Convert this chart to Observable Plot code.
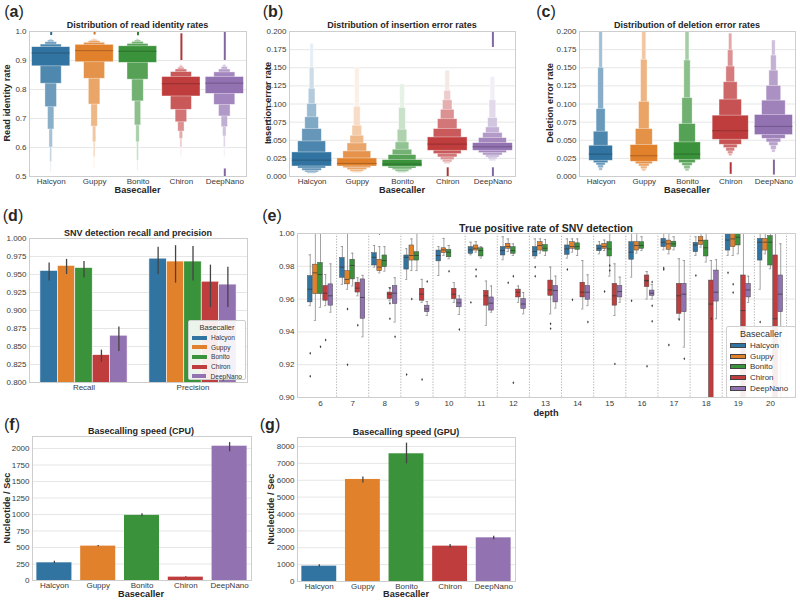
<!DOCTYPE html>
<html><head><meta charset="utf-8">
<script src="https://cdn.jsdelivr.net/npm/d3@7"></script>
<script src="https://cdn.jsdelivr.net/npm/@observablehq/plot@0.6"></script>
<style>
body{margin:0;background:#fff;}
#fig{position:relative;width:800px;height:600px;overflow:hidden;font-family:"Liberation Sans",Arial,sans-serif;color:#262626;background:#fff;}
#fig svg{position:absolute;left:0;top:0;}
.t{position:absolute;white-space:nowrap;transform:translate(-50%,-50%);line-height:1;}
.letter{font-size:16px;}
.title{font-size:9px;font-weight:bold;}
.title-e{font-size:10.5px;font-weight:bold;}
.axl{font-size:9.2px;font-weight:bold;}
.lg{position:absolute;background:rgba(255,255,255,0.9);border:1px solid #cfcfcf;border-radius:2px;box-sizing:border-box;}
.lg .lt{text-align:center;}
.lg .row{display:flex;align-items:center;}
.lg .sw{display:inline-block;box-sizing:border-box;}
</style></head><body><div id="fig"></div>
<script>
// ---------------- data ----------------
const basecallers = ["Halcyon", "Guppy", "Bonito", "Chiron", "DeepNano"];
const colors = ["#3274a1", "#e1812c", "#3a923a", "#c03d3e", "#9372b2"];

// (a) read identity rate: letter values (level 1 = quartiles)
const identityMedian = [0.926, 0.934, 0.932, 0.820, 0.822];
const identityLower = [
  [0.880, 0.820, 0.739, 0.662, 0.600, 0.550, 0.515],
  [0.894, 0.837, 0.748, 0.672, 0.618, 0.567, 0.530],
  [0.892, 0.834, 0.759, 0.676, 0.618, 0.555, 0.520],
  [0.776, 0.730, 0.687, 0.655, 0.630, 0.600, 0.567],
  [0.785, 0.747, 0.707, 0.670, 0.638, 0.600, 0.567]];
const identityUpper = [
  [0.946, 0.955, 0.963, 0.969, 0.972, 0.974, 0.975],
  [0.954, 0.961, 0.967, 0.971, 0.973, 0.975, 0.976],
  [0.949, 0.957, 0.964, 0.969, 0.972, 0.974, 0.975],
  [0.843, 0.860, 0.869, 0.875, 0.880, 0.884, 0.887],
  [0.843, 0.859, 0.869, 0.877, 0.883, 0.886, 0.888]];
const identityOutCat = [0, 1, 2, 3, 4, 4];
const identityOutLo = [0.986, 0.988, 0.985, 0.900, 0.900, 0.500];
const identityOutHi = [1.000, 1.000, 1.000, 0.992, 1.000, 0.526];
const identityTicks = [0.5, 0.6, 0.7, 0.8, 0.9, 1.0];

// (b) insertion error rate
const insMedian = [0.0226, 0.0180, 0.0171, 0.0447, 0.0410];
const insLower = [
  [0.0138, 0.0110, 0.0078, 0.0055, 0.0040],
  [0.0138, 0.0115, 0.0088, 0.0065, 0.0050],
  [0.0134, 0.0110, 0.0088, 0.0065, 0.0050],
  [0.0355, 0.0309, 0.0263, 0.0226, 0.0194, 0.0170],
  [0.0355, 0.0323, 0.0290, 0.0263, 0.0235, 0.0210]];
const insUpper = [
  [0.0332, 0.0484, 0.0654, 0.0816, 0.100, 0.121, 0.150, 0.183],
  [0.0249, 0.0346, 0.0456, 0.0562, 0.070, 0.096, 0.150],
  [0.0226, 0.0295, 0.0369, 0.0470, 0.0645, 0.0945, 0.127],
  [0.0539, 0.0654, 0.0790, 0.0920, 0.105, 0.118, 0.146],
  [0.0460, 0.0530, 0.0600, 0.0677, 0.0806, 0.105, 0.137]];
const insOutCat = [3, 4, 4];
const insOutLo = [0.000, 0.000, 0.178];
const insOutHi = [0.012, 0.012, 0.200];

// (c) deletion error rate
const delMedian = [0.0309, 0.0286, 0.0309, 0.0631, 0.0691];
const delLower = [
  [0.0217, 0.0184, 0.0152, 0.0115, 0.0078],
  [0.0203, 0.0170, 0.0138, 0.0101, 0.0070],
  [0.0226, 0.0184, 0.0147, 0.0101, 0.0070],
  [0.0507, 0.0438, 0.0392, 0.0346, 0.0309, 0.0280],
  [0.0571, 0.0520, 0.0470, 0.0424, 0.0369, 0.0330]];
const delUpper = [
  [0.0424, 0.0618, 0.093, 0.150, 0.21],
  [0.0433, 0.0654, 0.103, 0.161, 0.21],
  [0.0470, 0.0723, 0.108, 0.160, 0.21],
  [0.0839, 0.106, 0.130, 0.1516, 0.174, 0.197],
  [0.0848, 0.1046, 0.125, 0.146, 0.1668, 0.1876]];
const delOutCat = [3, 4];
const delOutLo = [0.003, 0.002];
const delOutHi = [0.019, 0.0226];
const rateTicks = [0, 0.025, 0.05, 0.075, 0.1, 0.125, 0.15, 0.175, 0.2];

// (d) SNV recall / precision
const metrics = ["Recall", "Precision"];
const recall = [0.955, 0.962, 0.959, 0.838, 0.865];
const recallLo = [0.941, 0.950, 0.945, 0.828, 0.843];
const recallHi = [0.966, 0.971, 0.968, 0.845, 0.877];
const precision = [0.972, 0.968, 0.968, 0.940, 0.936];
const precisionLo = [0.950, 0.938, 0.941, 0.904, 0.904];
const precisionHi = [0.988, 0.990, 0.989, 0.963, 0.960];
const snvTicks = [0.8, 0.825, 0.85, 0.875, 0.9, 0.925, 0.95, 0.975, 1.0];

// (e) true positive rate by depth (per basecaller, per depth)
const depths = [6, 7, 8, 9, 10, 11, 12, 13, 14, 15, 16, 17, 18, 19, 20];
const tprQ1 = [
  [0.958,0.973,0.9805,0.978,0.983,0.9876,0.9866,0.986,0.987,0.9892,0.984,0.9917,0.9886,0.9896,0.9835],
  [0.963,0.969,0.977,0.9835,0.988,0.9896,0.9907,0.9896,0.9906,0.9906,0.9896,0.990,0.993,0.9917,0.9896],
  [0.963,0.972,0.9795,0.9835,0.9855,0.986,0.9876,0.989,0.990,0.986,0.9906,0.9917,0.986,0.9927,0.9805],
  [0.959,0.964,0.960,0.959,0.960,0.956,0.961,0.962,0.961,0.956,0.9673,0.951,0.870,0.870,0.860],
  [0.956,0.948,0.957,0.952,0.955,0.953,0.954,0.958,0.9596,0.961,0.962,0.952,0.9585,0.961,0.952]];
const tprMed = [
  [0.966,0.9795,0.9855,0.9855,0.9866,0.990,0.9896,0.989,0.9906,0.991,0.9886,0.9947,0.993,0.996,0.9947],
  [0.976,0.972,0.9795,0.9866,0.990,0.991,0.992,0.9927,0.992,0.992,0.9927,0.9937,0.9957,0.9967,0.9947],
  [0.975,0.9805,0.9835,0.9866,0.9886,0.9896,0.9896,0.991,0.992,0.9906,0.9927,0.9937,0.9913,0.9977,0.9947],
  [0.9636,0.9667,0.963,0.963,0.963,0.962,0.9642,0.9656,0.9642,0.962,0.9713,0.962,0.957,0.953,0.948],
  [0.962,0.961,0.9636,0.954,0.9577,0.9575,0.957,0.9652,0.9642,0.9646,0.9636,0.963,0.9642,0.9656,0.963]];
const tprQ3 = [
  [0.974,0.985,0.988,0.9866,0.9896,0.9917,0.9917,0.9917,0.9927,0.9927,0.9947,0.9967,0.9943,1.0,0.9967],
  [0.981,0.977,0.984,0.9927,0.991,0.9927,0.9937,0.9947,0.9947,0.9937,0.9947,0.9957,0.9978,1.0,0.9967],
  [0.982,0.984,0.9866,0.9886,0.990,0.991,0.9917,0.993,0.994,0.9947,0.9947,0.995,0.9957,1.0,0.9984],
  [0.968,0.970,0.964,0.9663,0.9663,0.965,0.9658,0.9713,0.970,0.9693,0.9744,0.9693,0.9713,0.9744,0.9866],
  [0.969,0.972,0.968,0.956,0.9598,0.961,0.960,0.968,0.968,0.968,0.9652,0.9693,0.9774,0.9693,0.9744]];
const tprLo = [
  [0.956,0.969,0.9795,0.972,0.9744,0.987,0.984,0.985,0.985,0.9876,0.9734,0.990,0.9866,0.9866,0.966],
  [0.947,0.966,0.976,0.9774,0.9866,0.9886,0.989,0.988,0.9886,0.9896,0.988,0.9876,0.9917,0.9866,0.9876],
  [0.955,0.968,0.977,0.9774,0.9846,0.985,0.9866,0.9866,0.9866,0.974,0.9896,0.990,0.9826,0.9876,0.9785],
  [0.956,0.962,0.959,0.958,0.958,0.944,0.958,0.951,0.954,0.950,0.960,0.948,0.850,0.850,0.840],
  [0.952,0.937,0.946,0.950,0.9506,0.952,0.951,0.9545,0.956,0.958,0.960,0.9307,0.948,0.958,0.900]];
const tprHi = [
  [0.987,0.992,0.9927,0.9907,0.992,0.9947,0.998,0.9967,0.9967,0.995,1.0,1.0,0.998,1.0,1.0],
  [1.0,1.0,0.992,0.9967,0.997,0.995,0.9967,0.9967,0.9967,0.996,1.0,1.0,1.0,1.0,1.0],
  [1.0,0.988,0.992,1.0,0.9927,0.992,0.9937,0.9963,0.9967,1.0,0.998,0.998,1.0,1.0,1.0],
  [0.975,0.973,0.967,0.972,0.970,0.971,0.968,0.9795,0.9835,0.9815,0.9768,0.9846,0.9835,1.0,1.0],
  [0.9815,0.9745,0.973,0.9585,0.962,0.968,0.964,0.974,0.9748,0.9734,0.969,0.9835,0.984,0.974,0.9937]];
const tprOutDepth = [0,0,0,0,1,1,1,2,2,2,2,2,3,3,3,3,4,4,5,5,5,6,6,6,7,7,7,7,8,8,8,9,9,9,9,10,10,10,10,10,10,11,11,11,11,11,12,12,13,13,13,14];
const tprOutHue   = [0,0,2,3,1,1,3,1,3,3,3,4,0,3,1,4,2,4,0,1,1,1,2,2,0,0,3,3,0,1,4,1,3,2,2,0,3,4,4,4,3,0,0,1,3,4,0,3,0,1,1,0];
const tprOutValue = [0.927,0.913,0.931,0.935,0.920,0.954,0.944,1.0,0.9667,0.9575,0.948,0.937,0.914,0.911,0.960,0.9707,0.977,0.9415,0.958,0.978,0.974,0.970,0.974,0.909,0.9795,0.974,0.945,0.942,0.978,0.9596,0.946,0.9646,0.9205,0.9805,0.9774,0.959,0.9712,0.9705,0.956,0.9465,0.919,0.979,0.978,0.932,0.9476,0.9236,0.9744,0.948,0.976,0.969,0.964,0.946];
const tprTicks = [0.90, 0.92, 0.94, 0.96, 0.98, 1.00];

// (f) CPU speed, (g) GPU speed
const cpuSpeed = [268, 521, 987, 51, 2035];
const cpuLo = [255, 512, 965, 45, 1950];
const cpuHi = [292, 532, 1012, 57, 2090];
const cpuTicks = [0, 250, 500, 750, 1000, 1250, 1500, 1750, 2000];
const gpuSpeed = [909, 6047, 7568, 2095, 2589];
const gpuLo = [850, 5830, 6976, 1976, 2470];
const gpuHi = [988, 6186, 8200, 2193, 2688];
const gpuTicks = [0, 1000, 2000, 3000, 4000, 5000, 6000, 7000, 8000];

// ---------------- helpers ----------------
const fig = document.getElementById("fig");
const FONT = "'Liberation Sans',Arial,sans-serif";
const idx = d3.range(basecallers.length);

function addPlot(opts) {
  const p = Plot.plot({
    width: 800, height: 600,
    style: `background:transparent;font-family:${FONT};font-size:8px;color:#3a3a3a;overflow:visible;`,
    color: {type: "identity"},
    ...opts
  });
  fig.appendChild(p);
}
function addText(html, x, y, cls, rotate) {
  const d = document.createElement("div");
  d.className = "t " + cls;
  d.innerHTML = html;
  d.style.left = x + "px"; d.style.top = y + "px";
  if (rotate) d.style.transform = "translate(-50%,-50%) rotate(-90deg)";
  fig.appendChild(d);
}
function catAxis(labels, pad = 1.5) {
  return Plot.axisX(d3.range(labels.length), {tickSize: 0, tickPadding: pad, tickFormat: i => labels[i], label: null, fill: "#3a3a3a"});
}
function valAxis(ticks, fmt) {
  return Plot.axisY(ticks, {tickSize: 0, tickPadding: 3, tickFormat: d3.format(fmt), label: null, fill: "#3a3a3a"});
}
const grid = ticks => Plot.gridY(ticks, {stroke: "#e6e6e6", strokeOpacity: 1});
const frame = () => Plot.frame({stroke: "#cdcdcd"});

function boxen(median, lower, upper, outCat, outLo, outHi, shrink, catScale, fadeMax) {
  const rects = [];
  lower.forEach((lo, i) => {
    const up = upper[i];
    const n = Math.max(lo.length, up.length);
    for (let k = n - 1; k >= 0; k--) {
      const hw = 0.44 * Math.pow(shrink, k) * catScale[i];
      rects.push({
        x1: i - hw, x2: i + hw,
        y1: lo[Math.min(k, lo.length - 1)], y2: up[Math.min(k, up.length - 1)],
        fill: d3.interpolateRgb(colors[i], "#ffffff")(fadeMax * k / (n - 1))
      });
    }
  });
  const meds = median.map((m, i) => ({y: m, x1: i - 0.44 * catScale[i], x2: i + 0.44 * catScale[i], stroke: d3.color(colors[i]).darker(1.1).formatHex()}));
  const outs = outCat.map((c, j) => ({x: c, y1: outLo[j], y2: outHi[j], stroke: d3.color(colors[c]).darker(0.3).formatHex()}));
  return [
    Plot.rect(rects, {x1: "x1", x2: "x2", y1: "y1", y2: "y2", fill: "fill", stroke: "#ffffff", strokeOpacity: 0.55, strokeWidth: 0.7, clip: true}),
    Plot.ruleY(meds, {y: "y", x1: "x1", x2: "x2", stroke: "stroke", strokeWidth: 0.9, strokeOpacity: 0.8}),
    Plot.ruleX(outs, {x: "x", y1: "y1", y2: "y2", stroke: "stroke", strokeWidth: 2, clip: true})
  ];
}

// ---------------- (a) ----------------
addPlot({
  marginLeft: 29, marginRight: 554, marginTop: 31, marginBottom: 424,
  x: {type: "linear", domain: [-0.5, 4.5]},
  y: {domain: [0.5, 1.0]},
  marks: [grid(identityTicks),
    ...boxen(identityMedian, identityLower, identityUpper, identityOutCat, identityOutLo, identityOutHi, 0.55, [1,1,1,1,1], 0.85),
    frame(), catAxis(basecallers), valAxis(identityTicks, ".1f")]
});
// ---------------- (b) ----------------
addPlot({
  marginLeft: 289, marginRight: 285, marginTop: 31, marginBottom: 424,
  x: {type: "linear", domain: [-0.5, 4.5]},
  y: {domain: [0, 0.2]},
  marks: [grid(rateTicks),
    ...boxen(insMedian, insLower, insUpper, insOutCat, insOutLo, insOutHi, 0.7, [1,1,1,1,1], 0.88),
    frame(), catAxis(basecallers), valAxis(rateTicks, ".3f")]
});
// ---------------- (c) ----------------
addPlot({
  marginLeft: 579, marginRight: 5, marginTop: 31, marginBottom: 424,
  x: {type: "linear", domain: [-0.5, 4.5]},
  y: {domain: [0, 0.2]},
  marks: [grid(rateTicks),
    ...boxen(delMedian, delLower, delUpper, delOutCat, delOutLo, delOutHi, 0.62, [0.62,0.72,0.7,0.95,1.0], 0.55),
    frame(), catAxis(basecallers), valAxis(rateTicks, ".3f")]
});
// ---------------- (d) ----------------
{
  const bars = [];
  [[recall, recallLo, recallHi], [precision, precisionLo, precisionHi]].forEach(([v, lo, hi], m) => {
    idx.forEach(j => {
      const c = m + (j - 2) * 0.16;
      bars.push({x1: c - 0.08, x2: c + 0.08, x: c, y: v[j], lo: lo[j], hi: hi[j], fill: colors[j]});
    });
  });
  addPlot({
    marginLeft: 29, marginRight: 553, marginTop: 238, marginBottom: 218,
    x: {type: "linear", domain: [-0.5, 1.5]},
    y: {domain: [0.8, 1.0]},
    marks: [grid(snvTicks),
      Plot.rectY(bars, {x1: "x1", x2: "x2", y: "y", fill: "fill", stroke: "#ffffff", strokeWidth: 0.6, clip: true}),
      Plot.ruleX(bars, {x: "x", y1: "lo", y2: "hi", stroke: "#444", strokeWidth: 1.3}),
      frame(), catAxis(metrics, 2), valAxis(snvTicks, ".3f")]
  });
}
// ---------------- (e) ----------------
{
  const boxes = [];
  depths.forEach((d, i) => idx.forEach(j => {
    const c = i + (j - 2) * 0.16;
    boxes.push({c, x1: c - 0.072, x2: c + 0.072, q1: tprQ1[j][i], med: tprMed[j][i], q3: tprQ3[j][i], lo: tprLo[j][i], hi: tprHi[j][i], fill: colors[j]});
  }));
  const outs = tprOutDepth.map((d, k) => ({x: d + (tprOutHue[k] - 2) * 0.16, y: tprOutValue[k]}));
  addPlot({
    marginLeft: 297, marginRight: 5, marginTop: 233, marginBottom: 203,
    x: {type: "linear", domain: [-0.716, 14.78]},
    y: {domain: [0.9, 1.0]},
    marks: [grid(tprTicks),
      Plot.ruleX(d3.range(depths.length).map(i => i + 0.5), {stroke: "#9a9a9a", strokeDasharray: "1.2,1.6", strokeWidth: 0.8}),
      Plot.ruleX(boxes, {x: "c", y1: "lo", y2: "hi", stroke: "#8a8a8a", strokeWidth: 0.8, clip: true}),
      Plot.ruleY(boxes, {y: "lo", x1: d => d.c - 0.035, x2: d => d.c + 0.035, stroke: "#8a8a8a", strokeWidth: 0.8, clip: true}),
      Plot.ruleY(boxes, {y: "hi", x1: d => d.c - 0.035, x2: d => d.c + 0.035, stroke: "#8a8a8a", strokeWidth: 0.8, clip: true}),
      Plot.rect(boxes, {x1: "x1", x2: "x2", y1: "q1", y2: "q3", fill: "fill", stroke: "#4a4a4a", strokeWidth: 0.5, clip: true}),
      Plot.ruleY(boxes, {y: "med", x1: "x1", x2: "x2", stroke: "#333", strokeWidth: 0.7, clip: true}),
      Plot.dot(outs, {x: "x", y: "y", r: 0.9, symbol: "diamond", fill: "#3a3a3a", clip: true}),
      frame(), catAxis(depths, 2.5), valAxis(tprTicks, ".2f")]
  });
}
// ---------------- (f), (g) ----------------
function speedPlot(vals, lo, hi, ticks, domainMax, m) {
  const bars = idx.map(i => ({x1: i - 0.4, x2: i + 0.4, x: i, y: vals[i], lo: lo[i], hi: hi[i], fill: colors[i]}));
  addPlot({
    ...m,
    x: {type: "linear", domain: [-0.5, 4.5]},
    y: {domain: [0, domainMax]},
    marks: [grid(ticks),
      Plot.rectY(bars, {x1: "x1", x2: "x2", y: "y", fill: "fill"}),
      Plot.ruleX(bars, {x: "x", y1: "lo", y2: "hi", stroke: "#444", strokeWidth: 1.3}),
      frame(), catAxis(basecallers), valAxis(ticks, "d")]
  });
}
speedPlot(cpuSpeed, cpuLo, cpuHi, cpuTicks, 2182, {marginLeft: 32, marginRight: 549, marginTop: 436, marginBottom: 20});
speedPlot(gpuSpeed, gpuLo, gpuHi, gpuTicks, 8533, {marginLeft: 297, marginRight: 285, marginTop: 437, marginBottom: 19});

// ---------------- text ----------------
addText("(<b>a</b>)", 14, 12, "letter");
addText("(<b>b</b>)", 273, 12, "letter");
addText("(<b>c</b>)", 546, 12, "letter");
addText("(<b>d</b>)", 13, 216, "letter");
addText("(<b>e</b>)", 272, 216, "letter");
addText("(<b>f</b>)", 12, 425, "letter");
addText("(<b>g</b>)", 270, 425, "letter");

addText("Distribution of read identity rates", 137.5, 25, "title");
addText("Distribution of insertion error rates", 402, 25, "title");
addText("Distribution of deletion error rates", 687, 25, "title");
addText("SNV detection recall and precision", 138, 233, "title");
addText("True positive rate of SNV detection", 546, 228, "title-e");
addText("Basecalling speed (CPU)", 141, 431, "title");
addText("Basecalling speed (GPU)", 406, 432, "title");

addText("Basecaller", 137.5, 190.5, "axl");
addText("Basecaller", 402, 190.5, "axl");
addText("Basecaller", 687, 190.5, "axl");
addText("depth", 546, 413.5, "axl");
addText("Basecaller", 141, 595, "axl");
addText("Basecaller", 406, 595, "axl");
addText("Read identity rate", 8, 103, "axl", true);
addText("Insertion error rate", 269, 103, "axl", true);
addText("Deletion error rate", 551, 103, "axl", true);
addText("Nucleotide / Sec", 8, 508, "axl", true);
addText("Nucleotide / Sec", 272, 509, "axl", true);

// ---------------- legends ----------------
function legend(left, top, w, h, titleSize, labelSize, swW, swH, rowH, edge) {
  const d = document.createElement("div");
  d.className = "lg";
  Object.assign(d.style, {left: left + "px", top: top + "px", width: w + "px", height: h + "px", padding: "2px 3px"});
  let html = `<div class="lt" style="font-size:${titleSize}px;margin-bottom:1px;color:#333">Basecaller</div>`;
  basecallers.forEach((b, i) => {
    html += `<div class="row" style="height:${rowH}px;font-size:${labelSize}px;color:#333"><span class="sw" style="width:${swW}px;height:${swH}px;background:${colors[i]};margin-right:4px;${edge ? "border:0.5px solid #444;" : ""}"></span>${b}</div>`;
  });
  d.innerHTML = html;
  fig.appendChild(d);
}
legend(188, 320, 58, 60, 7.5, 6.6, 15, 4, 9.6, false);
legend(726, 326, 70, 72, 9, 8, 16, 5, 10.8, true);
</script></body></html>
